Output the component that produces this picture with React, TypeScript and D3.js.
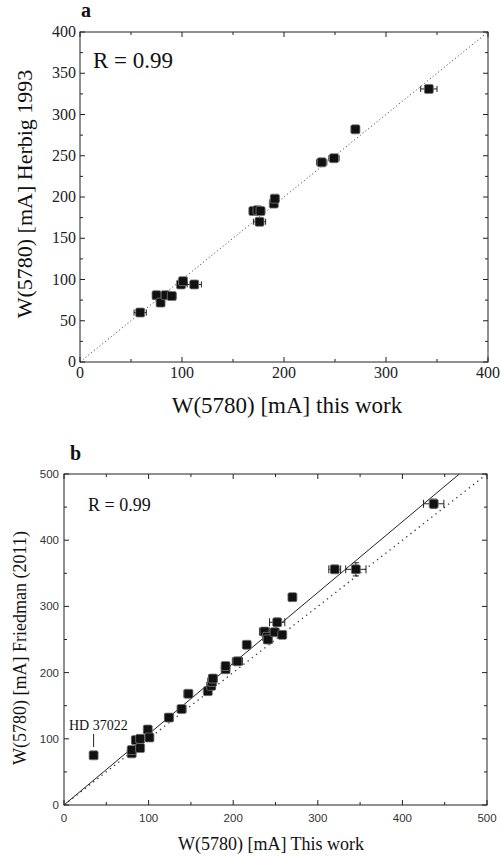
import React from 'react';
import * as d3 from 'd3';

// panel a: this work vs Herbig 1993
const aThisWork = [59, 75, 79, 84, 90, 99, 101, 112, 170, 174, 177, 176, 190, 191, 237, 249, 270, 342];
const aHerbig = [60, 81, 72, 81, 80, 94, 98, 94, 183, 184, 183, 170, 192, 198, 242, 247, 282, 331];
const aErrX = [6, 3, 2, 4, 4, 3, 3, 7, 4, 4, 4, 6, 3, 4, 5, 5, 4, 8];

// panel b: this work vs Friedman 2011
const bThisWork = [35, 80, 80, 85, 90, 90, 99, 101, 124, 139, 147, 170, 174, 175, 176, 191, 191, 205, 216, 237, 240, 241, 249, 252, 258, 270, 320, 345, 437];
const bFriedman = [75, 78, 83, 98, 100, 86, 114, 102, 132, 145, 168, 172, 180, 186, 191, 205, 210, 217, 242, 262, 254, 250, 261, 276, 257, 314, 356, 356, 455];
const bErrX = [4, 3, 3, 5, 4, 3, 3, 3, 5, 5, 5, 4, 5, 5, 5, 4, 4, 6, 4, 6, 5, 5, 5, 9, 4, 3, 7, 12, 12];
const bErrY = [3, 3, 3, 4, 4, 3, 4, 3, 4, 5, 5, 4, 5, 5, 5, 5, 5, 5, 5, 5, 5, 5, 5, 6, 5, 4, 5, 10, 7];

const fitSlope = 1.07;

const aTicksX = [0, 100, 200, 300, 400];
const aTicksY = [0, 50, 100, 150, 200, 250, 300, 350, 400];
const bTicks = [0, 100, 200, 300, 400, 500];

const SERIF = '"Liberation Serif", "Times New Roman", serif';
const SANS = '"Liberation Sans", Arial, sans-serif';
const INK = '#222';

type FrameProps = {
  x: d3.ScaleLinear<number, number>;
  y: d3.ScaleLinear<number, number>;
  xMinor: number[];
  yMinor: number[];
  xMajor: number[];
  yMajor: number[];
};

// box with inward ticks on all four sides
const Frame = ({ x, y, xMinor, yMinor, xMajor, yMajor }: FrameProps) => {
  const [x0, x1] = x.range();
  const [y0, y1] = y.range();
  const maj = 5, min = 3;
  return (
    <g stroke={INK} strokeWidth={1} fill="none">
      <rect x={x0} y={y1} width={x1 - x0} height={y0 - y1} />
      {xMajor.map(v => (
        <g key={'xm' + v}>
          <line x1={x(v)} x2={x(v)} y1={y0} y2={y0 - maj} />
          <line x1={x(v)} x2={x(v)} y1={y1} y2={y1 + maj} />
        </g>
      ))}
      {xMinor.map(v => (
        <g key={'xn' + v}>
          <line x1={x(v)} x2={x(v)} y1={y0} y2={y0 - min} />
          <line x1={x(v)} x2={x(v)} y1={y1} y2={y1 + min} />
        </g>
      ))}
      {yMajor.map(v => (
        <g key={'ym' + v}>
          <line x1={x0} x2={x0 + maj} y1={y(v)} y2={y(v)} />
          <line x1={x1} x2={x1 - maj} y1={y(v)} y2={y(v)} />
        </g>
      ))}
      {yMinor.map(v => (
        <g key={'yn' + v}>
          <line x1={x0} x2={x0 + min} y1={y(v)} y2={y(v)} />
          <line x1={x1} x2={x1 - min} y1={y(v)} y2={y(v)} />
        </g>
      ))}
    </g>
  );
};

const Marker = ({ cx, cy, s }: { cx: number; cy: number; s: number }) => (
  <rect x={cx - s / 2} y={cy - s / 2} width={s} height={s} rx={1.5} fill="#111" stroke="#777" strokeWidth={0.8} />
);

export default function App() {
  // panel a scales
  const ax = d3.scaleLinear().domain([0, 400]).range([80, 488]);
  const ay = d3.scaleLinear().domain([0, 400]).range([362, 32]);
  // panel b scales
  const bx = d3.scaleLinear().domain([0, 500]).range([64, 487]);
  const by = d3.scaleLinear().domain([0, 500]).range([805, 474]);

  const line = (sx: d3.ScaleLinear<number, number>, sy: d3.ScaleLinear<number, number>) =>
    d3.line<[number, number]>().x(d => sx(d[0])).y(d => sy(d[1]));

  const aDiag = line(ax, ay)([[0, 0], [400, 400]]) || '';
  const bDiag = line(bx, by)([[0, 0], [500, 500]]) || '';
  const bFit = line(bx, by)([[0, 0], [500 / fitSlope, 500]]) || '';

  const aMinorX = d3.range(50, 400, 100);
  const aMinorY = d3.range(25, 400, 50);
  const bMinor = d3.range(50, 500, 100);

  return (
    <svg width={501} height={856} style={{ position: 'absolute', left: 0, top: 0, background: '#fff' }}>
      {/* ---------- panel a ---------- */}
      <text x={81} y={17} fontFamily={SERIF} fontWeight="bold" fontSize={20} fill="#111">a</text>
      <path d={aDiag} stroke="#333" strokeWidth={1} strokeDasharray="1,2.6" fill="none" />
      {aThisWork.map((v, i) => {
        const cx = ax(v), cy = ay(aHerbig[i]);
        const e0 = ax(v - aErrX[i]), e1 = ax(v + aErrX[i]);
        return (
          <g key={'a' + i}>
            <g stroke="#222" strokeWidth={1}>
              <line x1={e0} x2={e1} y1={cy} y2={cy} />
              <line x1={e0} x2={e0} y1={cy - 3} y2={cy + 3} />
              <line x1={e1} x2={e1} y1={cy - 3} y2={cy + 3} />
            </g>
            <Marker cx={cx} cy={cy} s={9} />
          </g>
        );
      })}
      <Frame x={ax} y={ay} xMajor={aTicksX} yMajor={aTicksY} xMinor={aMinorX} yMinor={aMinorY} />
      {aTicksX.map(v => (
        <text key={'axl' + v} x={ax(v)} y={378} textAnchor="middle" fontFamily={SERIF} fontSize={16} fill={INK}>{v}</text>
      ))}
      {aTicksY.map(v => (
        <text key={'ayl' + v} x={76} y={ay(v) + 5} textAnchor="end" fontFamily={SERIF} fontSize={16} fill={INK}>{v}</text>
      ))}
      <text x={93} y={68} fontFamily={SERIF} fontSize={23} fill="#111">R = 0.99</text>
      <text x={287} y={413} textAnchor="middle" fontFamily={SERIF} fontSize={23} fill="#111">W(5780) [mA] this work</text>
      <text transform="translate(32,194) rotate(-90)" textAnchor="middle" fontFamily={SERIF} fontSize={22} fill="#111">W(5780) [mA] Herbig 1993</text>

      {/* ---------- panel b ---------- */}
      <text x={70} y={460} fontFamily={SERIF} fontWeight="bold" fontSize={20} fill="#111">b</text>
      <path d={bDiag} stroke="#333" strokeWidth={1.3} strokeDasharray="1.3,4" fill="none" />
      <path d={bFit} stroke="#222" strokeWidth={1} fill="none" />
      {bThisWork.map((v, i) => {
        const cx = bx(v), cy = by(bFriedman[i]);
        const e0 = bx(v - bErrX[i]), e1 = bx(v + bErrX[i]);
        const f0 = by(bFriedman[i] - bErrY[i]), f1 = by(bFriedman[i] + bErrY[i]);
        return (
          <g key={'b' + i}>
            <g stroke="#222" strokeWidth={1}>
              <line x1={e0} x2={e1} y1={cy} y2={cy} />
              <line x1={e0} x2={e0} y1={cy - 4} y2={cy + 4} />
              <line x1={e1} x2={e1} y1={cy - 4} y2={cy + 4} />
              <line x1={cx} x2={cx} y1={f0} y2={f1} />
              <line x1={cx - 3} x2={cx + 3} y1={f0} y2={f0} />
              <line x1={cx - 3} x2={cx + 3} y1={f1} y2={f1} />
            </g>
            <Marker cx={cx} cy={cy} s={9} />
          </g>
        );
      })}
      <Frame x={bx} y={by} xMajor={bTicks} yMajor={bTicks} xMinor={bMinor} yMinor={bMinor} />
      {bTicks.map(v => (
        <text key={'bxl' + v} x={bx(v)} y={822} textAnchor="middle" fontFamily={SANS} fontSize={11.5} fill="#333">{v}</text>
      ))}
      {bTicks.map(v => (
        <text key={'byl' + v} x={59} y={by(v) + 4} textAnchor="end" fontFamily={SANS} fontSize={11.5} fill="#333">{v}</text>
      ))}
      <text x={88} y={511} fontFamily={SERIF} fontSize={18} fill="#111">R = 0.99</text>
      <text x={69} y={730} fontFamily={SERIF} fontSize={14} fill="#111">HD 37022</text>
      <line x1={bx(bThisWork[0])} x2={bx(bThisWork[0])} y1={734} y2={747} stroke="#222" strokeWidth={1} />
      <text x={271} y={850} textAnchor="middle" fontFamily={SERIF} fontSize={18} fill="#111">W(5780) [mA] This work</text>
      <text transform="translate(26,648) rotate(-90)" textAnchor="middle" fontFamily={SERIF} fontSize={18} fill="#111">W(5780) [mA] Friedman (2011)</text>
    </svg>
  );
}
